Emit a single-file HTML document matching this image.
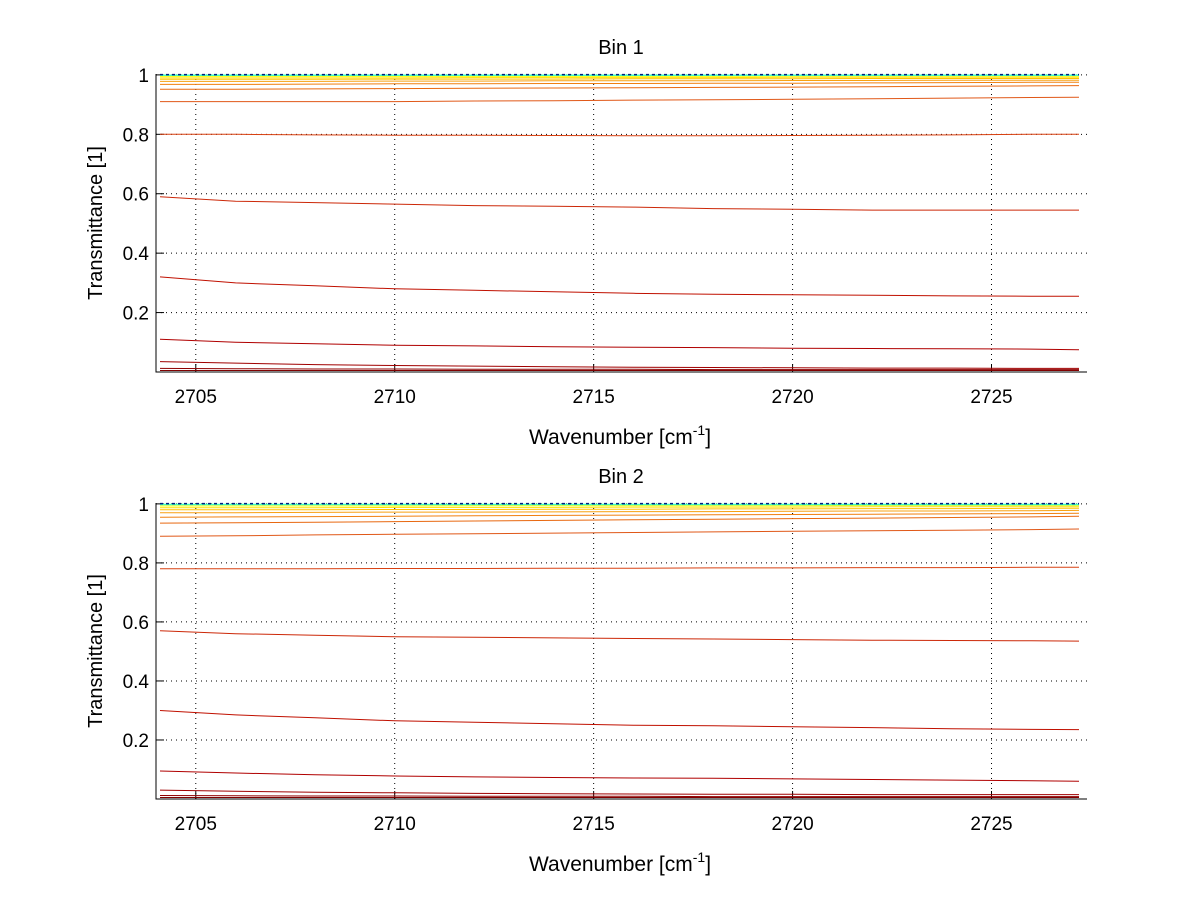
<!DOCTYPE html>
<html><head><meta charset="utf-8"><style>
body{margin:0;background:#fff;}
svg{display:block;font-family:"Liberation Sans",sans-serif;}
</style></head><body>
<svg id="c" width="1200" height="901"></svg>
<script>
const xKnots=[2704.1,2706,2708,2710,2712,2714,2716,2718,2720,2722,2724,2726,2727.2];
const bin1Series=[
[0.005,0.005,0.005,0.005,0.005,0.005,0.005,0.005,0.005,0.005,0.005,0.005,0.005],
[0.012,0.011,0.01,0.01,0.009,0.009,0.009,0.008,0.008,0.008,0.008,0.008,0.008],
[0.035,0.03,0.025,0.022,0.02,0.018,0.016,0.015,0.014,0.013,0.013,0.012,0.012],
[0.11,0.1,0.095,0.09,0.088,0.085,0.083,0.082,0.08,0.079,0.078,0.077,0.075],
[0.32,0.3,0.29,0.28,0.275,0.27,0.265,0.262,0.26,0.258,0.256,0.255,0.255],
[0.59,0.575,0.57,0.565,0.56,0.558,0.555,0.55,0.548,0.545,0.545,0.545,0.545],
[0.80,0.80,0.798,0.797,0.797,0.796,0.795,0.795,0.796,0.797,0.798,0.8,0.8],
[0.91,0.91,0.91,0.91,0.912,0.913,0.915,0.916,0.918,0.92,0.922,0.924,0.925],
[0.952,0.952,0.953,0.954,0.955,0.956,0.957,0.958,0.959,0.96,0.962,0.963,0.964],
[0.968,0.968,0.969,0.97,0.97,0.971,0.971,0.972,0.972,0.973,0.974,0.975,0.975],
[0.978,0.978,0.978,0.979,0.979,0.98,0.98,0.98,0.981,0.981,0.982,0.982,0.982],
[0.985,0.985,0.985,0.986,0.986,0.986,0.987,0.987,0.987,0.988,0.988,0.988,0.988],
[0.99,0.99,0.99,0.99,0.991,0.991,0.991,0.991,0.992,0.992,0.992,0.992,0.992],
[0.995,0.995,0.995,0.995,0.995,0.995,0.995,0.995,0.996,0.996,0.996,0.996,0.996],
[0.999,0.999,0.999,0.999,0.999,0.999,0.999,0.999,0.999,0.999,0.999,0.999,0.999],
[1.001,1.001,1.001,1.001,1.001,1.001,1.001,1.001,1.001,1.001,1.001,1.001,1.001]];
const bin2Series=[
[0.005,0.005,0.005,0.005,0.005,0.005,0.005,0.005,0.005,0.005,0.005,0.005,0.005],
[0.012,0.011,0.01,0.01,0.009,0.009,0.009,0.008,0.008,0.008,0.008,0.008,0.008],
[0.03,0.026,0.023,0.021,0.019,0.018,0.017,0.016,0.016,0.015,0.015,0.015,0.015],
[0.095,0.088,0.082,0.078,0.075,0.073,0.071,0.07,0.068,0.066,0.064,0.062,0.06],
[0.30,0.285,0.275,0.265,0.26,0.255,0.25,0.248,0.245,0.242,0.238,0.236,0.235],
[0.57,0.56,0.555,0.55,0.548,0.546,0.544,0.542,0.54,0.538,0.537,0.536,0.535],
[0.78,0.78,0.78,0.781,0.781,0.782,0.782,0.783,0.783,0.784,0.784,0.785,0.785],
[0.89,0.892,0.895,0.897,0.899,0.901,0.903,0.905,0.907,0.909,0.911,0.913,0.915],
[0.935,0.936,0.938,0.94,0.942,0.944,0.946,0.948,0.95,0.952,0.954,0.956,0.958],
[0.955,0.956,0.957,0.958,0.96,0.961,0.962,0.963,0.964,0.965,0.966,0.967,0.968],
[0.97,0.97,0.971,0.972,0.972,0.973,0.974,0.974,0.975,0.976,0.976,0.977,0.978],
[0.98,0.98,0.98,0.981,0.981,0.982,0.982,0.983,0.983,0.984,0.984,0.985,0.985],
[0.987,0.987,0.987,0.988,0.988,0.988,0.989,0.989,0.989,0.99,0.99,0.99,0.99],
[0.993,0.993,0.993,0.993,0.994,0.994,0.994,0.994,0.994,0.995,0.995,0.995,0.995],
[0.998,0.998,0.998,0.998,0.998,0.998,0.998,0.998,0.998,0.998,0.998,0.998,0.998],
[1.001,1.001,1.001,1.001,1.001,1.001,1.001,1.001,1.001,1.001,1.001,1.001,1.001]];
const seriesColors=["#7f0000","#8f0000","#a00000","#b00000","#c01000","#cc2808","#d84010","#e05818","#e86810","#f08010","#f8a010","#ffc000","#ffe000","#ffff00","#40ffc0","#00207f"];
const xTicks=[2705,2710,2715,2720,2725];
const yTicks=[0.2,0.4,0.6,0.8,1];
const yTickLabels=["0.2","0.4","0.6","0.8","1"];
const titles=["Bin 1","Bin 2"];

const NS="http://www.w3.org/2000/svg";
const svg=document.getElementById('c');
function mk(tag,attrs,parent){const e=document.createElementNS(NS,tag);for(const k in attrs)e.setAttribute(k,attrs[k]);(parent||svg).appendChild(e);return e;}
const X0=156,X1=1087,XMIN=2704.0,XMAX=2727.4;
function xs(v){return X0+(v-XMIN)/(XMAX-XMIN)*(X1-X0);}
const panels=[{top:74,bot:372,series:bin1Series},{top:503,bot:799,series:bin2Series}];
panels.forEach((p,pi)=>{
  const g=mk('g',{});
  
  
  const YMIN=0,YMAX=1.003;
  const ys=v=>p.bot-(v-YMIN)/(YMAX-YMIN)*(p.bot-p.top);
  xTicks.forEach(t=>{
    const l=mk('line',{x1:xs(t),x2:xs(t),y1:p.top,y2:p.bot,stroke:'#000','stroke-width':1,'stroke-dasharray':'1,4'},g);
    
    
    const tk=mk('line',{x1:xs(t),x2:xs(t),y1:p.bot,y2:p.bot-8,stroke:'#000'},g);
    
    
    const tx=mk('text',{x:xs(t),y:p.bot+31,'font-size':19,'text-anchor':'middle'},g);
    tx.textContent=String(t);
    
    
  });
  yTicks.forEach((t,i)=>{
    const l=mk('line',{x1:X0,x2:X1,y1:ys(t),y2:ys(t),stroke:'#000','stroke-width':1,'stroke-dasharray':'1,4'},g);
    
    
    const tk=mk('line',{x1:X0,x2:X0+8,y1:ys(t),y2:ys(t),stroke:'#000'},g);
    
    
    const tx=mk('text',{x:X0-7,y:ys(t)+7,'font-size':19,'text-anchor':'end'},g);
    tx.textContent=yTickLabels[i];
    
    
  });
  p.series.forEach((s,si)=>{
    const pts=s.map((v,i)=>xs(xKnots[i]).toFixed(1)+','+ys(v).toFixed(1)).join(' ');
    const pl=mk('polyline',{points:pts,fill:'none',stroke:seriesColors[si],'stroke-width':si>=14?1.5:1,'stroke-dasharray':si===15?'3,3':'none'},g);
    
    
  });
  const ax=mk('path',{d:`M${X0},${p.top}V${p.bot}H${X1}`,fill:'none',stroke:'#000','stroke-width':1},g);
  
  
  const ti=mk('text',{x:621,y:p.top-20,'font-size':20,'text-anchor':'middle'},g);
  ti.textContent=titles[pi];
  
  
  const yl=mk('text',{x:0,y:0,'font-size':20,'text-anchor':'middle',transform:`translate(102,${(p.top+p.bot)/2}) rotate(-90)`},g);
  yl.textContent='Transmittance [1]';
  
  
  const xl=mk('text',{x:620,y:p.bot+72,'font-size':21,'text-anchor':'middle'},g);
  
  
  xl.appendChild(document.createTextNode('Wavenumber [cm'));
  const sup=mk('tspan',{dy:-9,'font-size':14},xl);sup.textContent='-1';
  const cl=mk('tspan',{dy:9},xl);cl.textContent=']';
});
</script>
</body></html>
